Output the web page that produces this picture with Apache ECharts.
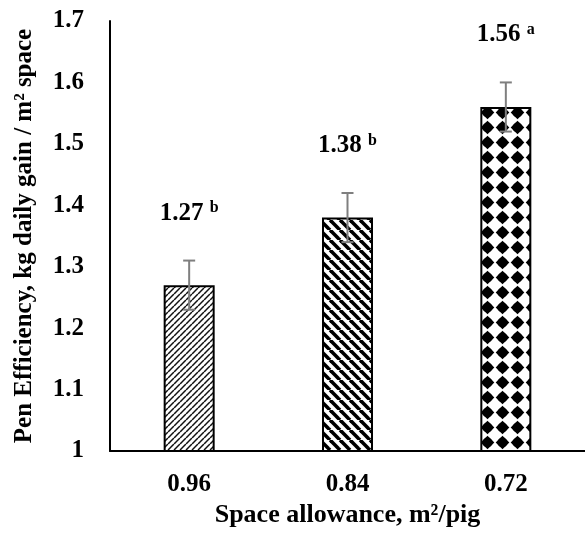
<!DOCTYPE html>
<html>
<head>
<meta charset="utf-8">
<script src="https://cdn.jsdelivr.net/npm/echarts@6/dist/echarts.min.js"></script>
<style>
  html, body { margin: 0; padding: 0; background: #fff; }
  #chart { width: 585px; height: 539px; }
</style>
</head>
<body>
<div id="chart"></div>
<script>
// Space allowance groups and pen efficiency results
const categories = ['0.96', '0.84', '0.72'];
const efficiency = [1.27, 1.38, 1.56];
const stdError = [0.04, 0.04, 0.04];
const letters = ['b', 'b', 'a'];
const yTicks = [1, 1.1, 1.2, 1.3, 1.4, 1.5, 1.6, 1.7];

const FONT = '"Liberation Serif", "Times New Roman", serif';

// Hatch fills for the three bars
function makeTile(w, h, draw) {
  const c = document.createElement('canvas');
  c.width = w; c.height = h;
  const ctx = c.getContext('2d');
  ctx.fillStyle = '#fff';
  ctx.fillRect(0, 0, w, h);
  draw(ctx, w, h);
  return c;
}

// fine upward diagonal lines
const fineUp = makeTile(6, 6, (ctx, w, h) => {
  ctx.strokeStyle = '#111';
  ctx.lineWidth = 1.5;
  for (let k = -1; k <= 1; k++) {
    ctx.beginPath();
    ctx.moveTo(k * w, h);
    ctx.lineTo(k * w + w, 0);
    ctx.stroke();
  }
});

// wide downward diagonal stripes
const wideDown = makeTile(10, 10, (ctx, w, h) => {
  ctx.strokeStyle = '#000';
  ctx.lineWidth = 3.6;
  for (let k = -1; k <= 1; k++) {
    ctx.beginPath();
    ctx.moveTo(k * w, 0);
    ctx.lineTo(k * w + w, h);
    ctx.stroke();
  }
});

// solid diamonds
const diamonds = makeTile(15, 15, (ctx, w, h) => {
  ctx.fillStyle = '#000';
  const cx = w / 2, cy = h / 2, r = 6.8;
  ctx.beginPath();
  ctx.moveTo(cx, cy - r);
  ctx.lineTo(cx + r, cy);
  ctx.lineTo(cx, cy + r);
  ctx.lineTo(cx - r, cy);
  ctx.closePath();
  ctx.fill();
  ctx.beginPath();
  ctx.arc(cx, cy, 5, 0, Math.PI * 2);
  ctx.fill();
});

const fills = [fineUp, wideDown, diamonds];

const chart = echarts.init(document.getElementById('chart'), null, { renderer: 'canvas' });

chart.setOption({
  backgroundColor: '#fff',
  animation: false,
  grid: { left: 110, right: -9.5, top: 21, bottom: 88 },
  xAxis: {
    type: 'category',
    data: categories,
    name: 'Space allowance, m²/pig',
    nameLocation: 'middle',
    nameGap: 51,
    nameTextStyle: { fontFamily: FONT, fontWeight: 'bold', fontSize: 26, color: '#000' },
    axisLine: { lineStyle: { color: '#000', width: 2 } },
    axisTick: { show: false },
    axisLabel: { fontFamily: FONT, fontWeight: 'bold', fontSize: 25, color: '#000', margin: 21 }
  },
  yAxis: {
    type: 'value',
    min: 1,
    max: 1.7,
    interval: 0.1,
    name: 'Pen Efficiency, kg daily gain / m² space',
    nameLocation: 'middle',
    nameGap: 73,
    nameTextStyle: { fontFamily: FONT, fontWeight: 'bold', fontSize: 25, color: '#000' },
    axisLine: { show: true, lineStyle: { color: '#000', width: 2 } },
    axisTick: { show: false },
    splitLine: { show: false },
    axisLabel: {
      fontFamily: FONT, fontWeight: 'bold', fontSize: 25, color: '#000', margin: 26,
      formatter: v => {
        const t = yTicks.find(x => Math.abs(x - v) < 1e-6);
        return t === undefined ? '' : String(t);
      }
    }
  },
  series: [
    {
      type: 'bar',
      barWidth: 51,
      data: efficiency.map((v, i) => ({
        value: v,
        itemStyle: {
          color: { image: fills[i], repeat: 'repeat' },
          borderColor: '#000',
          borderWidth: 2
        }
      })),
      label: {
        show: true,
        position: 'top',
        distance: 59,
        formatter: p => '{v|' + efficiency[p.dataIndex].toFixed(2) + ' }{s|' + letters[p.dataIndex] + '}',
        rich: {
          v: { fontFamily: FONT, fontWeight: 'bold', fontSize: 25, color: '#000', lineHeight: 26 },
          s: { fontFamily: FONT, fontWeight: 'bold', fontSize: 16, color: '#000', verticalAlign: 'top', lineHeight: 26 }
        }
      },
      z: 2
    },
    {
      type: 'custom',
      data: efficiency.map((v, i) => [i, v, stdError[i]]),
      z: 3,
      renderItem: (params, api) => {
        const i = api.value(0), v = api.value(1), e = api.value(2);
        const top = api.coord([i, v + e]);
        const bot = api.coord([i, v - e]);
        const cap = 6;
        const style = { stroke: '#7f7f7f', lineWidth: 2 };
        return {
          type: 'group',
          children: [
            { type: 'line', shape: { x1: top[0], y1: top[1], x2: bot[0], y2: bot[1] }, style },
            { type: 'line', shape: { x1: top[0] - cap, y1: top[1], x2: top[0] + cap, y2: top[1] }, style },
            { type: 'line', shape: { x1: bot[0] - cap, y1: bot[1], x2: bot[0] + cap, y2: bot[1] }, style }
          ]
        };
      }
    }
  ]
});
</script>
</body>
</html>
